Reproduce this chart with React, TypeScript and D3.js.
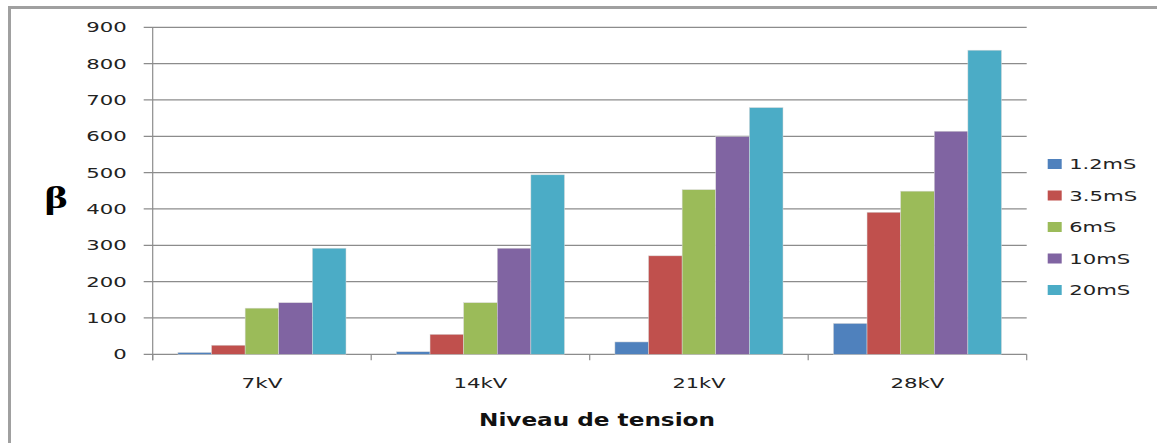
import React from "react";
import * as d3 from "d3";

const categories = ["7kV", "14kV", "21kV", "28kV"];
const seriesNames = ["1.2mS", "3.5mS", "6mS", "10mS", "20mS"];
const s12 = [5, 7, 34, 85];
const s35 = [25, 55, 271, 391];
const s6 = [127, 142, 453, 449];
const s10 = [142, 292, 599, 614];
const s20 = [292, 494, 679, 837];
const seriesValues = [s12, s35, s6, s10, s20];
const colors = ["#4F81BD", "#C0504D", "#9BBB59", "#8064A2", "#4BACC6"];
const yTicks = [0, 100, 200, 300, 400, 500, 600, 700, 800, 900];
const xTitle = "Niveau de tension";
const yTitle = "β";

const W = 1157;
const H = 443;
const plotLeft = 152.7;
const plotRight = 1026.7;
const plotTop = 27.3;
const plotBottom = 354.3;

export default function App() {
  const y = d3.scaleLinear().domain([0, 900]).range([plotBottom, plotTop]);
  const x0 = d3.scaleBand<string>().domain(categories).range([plotLeft, plotRight]).padding(0);
  const bw = x0.bandwidth();
  const x1 = d3
    .scaleBand<string>()
    .domain(seriesNames)
    .range([(0.75 / 6.5) * bw, bw - (0.75 / 6.5) * bw])
    .padding(0);
  const barW = x1.bandwidth();
  const grid = "#8c8c8c";
  const font = "'DejaVu Sans', Verdana, sans-serif";
  const yLabelWidth = (v: number) => (String(v).length === 1 ? 13.5 : String(v).length * 13.5);
  const xLabelWidths: Record<string, number> = { "7kV": 41, "14kV": 54, "21kV": 53, "28kV": 54 };
  const legendWidths: Record<string, number> = { "1.2mS": 67, "3.5mS": 68, "6mS": 47, "10mS": 61, "20mS": 61 };

  return (
    <svg
      width={W}
      height={H}
      style={{ position: "absolute", left: 0, top: 0, background: "#fff" }}
    >
      <rect x={0} y={0} width={W} height={H} fill="#fff" />
      {/* frame */}
      <rect x={9.5} y={7.5} width={W + 20} height={H + 20} fill="none" stroke="#a0a0a0" strokeWidth={3} />
      {/* gridlines */}
      {yTicks.map((t) => (
        <line key={"g" + t} x1={plotLeft - 9} x2={plotRight} y1={y(t)} y2={y(t)} stroke={grid} strokeWidth={1.2} />
      ))}
      {/* y axis */}
      <line x1={plotLeft} x2={plotLeft} y1={plotTop} y2={plotBottom + 6} stroke={grid} strokeWidth={1.2} />
      {/* x ticks */}
      {[...categories.map((c) => x0(c) as number), plotRight].map((xv, i) => (
        <line key={"xt" + i} x1={xv} x2={xv} y1={plotBottom} y2={plotBottom + 6} stroke={grid} strokeWidth={1.2} />
      ))}
      {/* bars */}
      {categories.map((c, ci) => (
        <g key={c} transform={`translate(${x0(c)},0)`}>
          {seriesNames.map((s, si) => {
            const v = seriesValues[si][ci];
            return (
              <rect
                key={s}
                x={x1(s)}
                y={y(v)}
                width={barW}
                height={plotBottom - y(v)}
                fill={colors[si]}
                stroke="#d9d9d9"
                strokeWidth={0.5}
              />
            );
          })}
        </g>
      ))}
      {/* y tick labels */}
      {yTicks.map((t) => (
        <text
          key={"yl" + t}
          x={126.7 - yLabelWidth(t)}
          y={y(t) + 5}
          fontFamily={font}
          fontSize={14}
          fill="#222"
          textLength={yLabelWidth(t)}
          lengthAdjust="spacingAndGlyphs"
        >
          {t}
        </text>
      ))}
      {/* x labels */}
      {categories.map((c) => {
        const w = xLabelWidths[c];
        return (
          <text
            key={"xl" + c}
            x={(x0(c) as number) + bw / 2 - w / 2}
            y={387.5}
            fontFamily={font}
            fontSize={14}
            fill="#222"
            textLength={w}
            lengthAdjust="spacingAndGlyphs"
          >
            {c}
          </text>
        );
      })}
      {/* x title */}
      <text
        x={479}
        y={426}
        fontFamily={font}
        fontSize={18}
        fontWeight="bold"
        fill="#111"
        textLength={236}
        lengthAdjust="spacingAndGlyphs"
      >
        {xTitle}
      </text>
      {/* y title */}
      <text
        x={44.3}
        y={208}
        fontFamily="'Liberation Serif', 'Times New Roman', serif"
        fontSize={31}
        fontWeight="bold"
        fill="#000"
        textLength={23.5}
        lengthAdjust="spacingAndGlyphs"
      >
        {yTitle}
      </text>
      {/* legend */}
      {seriesNames.map((s, i) => {
        const cy = 164 + i * 31.5;
        return (
          <g key={"lg" + s}>
            <rect x={1047.7} y={cy - 5} width={14} height={10} fill={colors[i]} />
            <text
              x={1069.3}
              y={cy + 5}
              fontFamily={font}
              fontSize={14}
              fill="#222"
              textLength={legendWidths[s]}
              lengthAdjust="spacingAndGlyphs"
            >
              {s}
            </text>
          </g>
        );
      })}
    </svg>
  );
}
